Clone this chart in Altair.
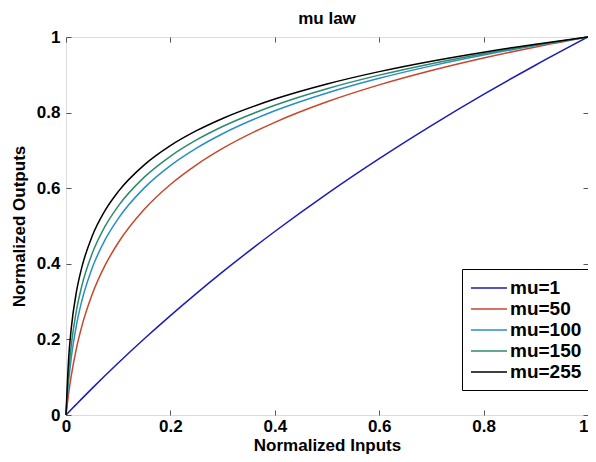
import altair as alt
import pandas as pd

# Normalized input positions
x_vals = [0, 0.005, 0.01, 0.02, 0.03, 0.05, 0.075, 0.1, 0.15, 0.2, 0.25, 0.3,
          0.4, 0.5, 0.6, 0.7, 0.8, 0.9, 1.0]

# Normalized outputs per curve
mu1 = [0, 0.0072, 0.0144, 0.0286, 0.0427, 0.0704, 0.1043, 0.1375, 0.2016, 0.2630,
       0.3219, 0.3785, 0.4854, 0.5850, 0.6781, 0.7655, 0.8480, 0.9260, 1.0]
mu50 = [0, 0.0568, 0.1031, 0.1763, 0.2330, 0.3186, 0.3963, 0.4557, 0.5443, 0.6099,
        0.6620, 0.7052, 0.7743, 0.8287, 0.8734, 0.9114, 0.9445, 0.9738, 1.0]
mu100 = [0, 0.0879, 0.1502, 0.2380, 0.3004, 0.3882, 0.4637, 0.5196, 0.6008, 0.6597,
         0.7060, 0.7441, 0.8047, 0.8519, 0.8907, 0.9236, 0.9522, 0.9774, 1.0]
mu150 = [0, 0.1115, 0.1826, 0.2763, 0.3398, 0.4265, 0.4994, 0.5526, 0.6292, 0.6844,
         0.7276, 0.7631, 0.8193, 0.8632, 0.8991, 0.9295, 0.9559, 0.9791, 1.0]
mu255 = [0, 0.1482, 0.2285, 0.3261, 0.3891, 0.4727, 0.5414, 0.5910, 0.6618, 0.7126,
         0.7521, 0.7845, 0.8358, 0.8757, 0.9084, 0.9360, 0.9599, 0.9811, 1.0]

labels = ["mu=1", "mu=50", "mu=100", "mu=150", "mu=255"]
colors = ["#1c1cb8", "#c8472a", "#2a8fc6", "#2e8a6c", "#000000"]
tick_values = [0, 0.2, 0.4, 0.6, 0.8, 1]

series = [mu1, mu50, mu100, mu150, mu255]
rows = []
for lab, ys in zip(labels, series):
    for xv, yv in zip(x_vals, ys):
        rows.append({"x": xv, "y": yv, "series": lab})
df = pd.DataFrame(rows)

FONT = "Liberation Sans"
xscale = alt.Scale(domain=[0, 1], nice=False, zero=False)
yscale = alt.Scale(domain=[0, 1], nice=False, zero=False)

base = alt.Chart(df)

lines = base.mark_line(strokeWidth=1.5, interpolate="monotone").encode(
    x=alt.X("x:Q", scale=xscale, title="Normalized Inputs",
            axis=alt.Axis(orient="bottom", values=tick_values, format="~g",
                          domain=False, ticks=False, grid=False, labelFlush=False,
                          labelAlign=alt.expr("datum.value == 1 ? 'right' : 'center'"),
                          labelFont=FONT, labelFontSize=17, labelFontWeight="bold",
                          labelColor="#000", labelPadding=3,
                          titleFont=FONT, titleFontSize=17, titleFontWeight="bold",
                          titleColor="#000", titlePadding=3)),
    y=alt.Y("y:Q", scale=yscale, title="Normalized Outputs",
            axis=alt.Axis(orient="left", values=tick_values, format="~g",
                          domain=False, ticks=False, grid=False, labelFlush=False,
                          labelFont=FONT, labelFontSize=17, labelFontWeight="bold",
                          labelColor="#000", labelPadding=6,
                          titleFont=FONT, titleFontSize=17, titleFontWeight="bold",
                          titleColor="#000", titlePadding=8)),
    color=alt.Color("series:N", sort=labels,
                    scale=alt.Scale(domain=labels, range=colors),
                    legend=alt.Legend(orient="none", legendX=396, legendY=232,
                                      title=None, symbolType="M-1,0H2.6",
                                      symbolSize=400, symbolStrokeWidth=1.5,
                                      labelOffset=18, labelFont=FONT,
                                      labelFontSize=19, labelFontWeight="bold",
                                      labelColor="#000", rowPadding=0,
                                      padding=8, fillColor="white",
                                      strokeColor="#000", cornerRadius=0)),
)


def tick_axis(orient):
    return alt.Axis(orient=orient, values=tick_values, offset=-5, tickSize=5,
                    tickColor="#555", domain=False, labels=False, grid=False,
                    title=None)


inner1 = base.mark_line(opacity=0).encode(
    x=alt.X("x:Q", scale=xscale, axis=tick_axis("bottom")),
    y=alt.Y("y:Q", scale=yscale, axis=tick_axis("left")),
)
inner2 = base.mark_line(opacity=0).encode(
    x=alt.X("x:Q", scale=xscale, axis=tick_axis("top")),
    y=alt.Y("y:Q", scale=yscale, axis=tick_axis("right")),
)

chart = alt.layer(lines, inner1, inner2).resolve_axis(
    x="independent", y="independent"
).properties(
    width=522, height=378,
    autosize=alt.AutoSizeParams(type="none"),
    padding={"left": 58, "top": 29, "right": 0, "bottom": 39},
    title=alt.Title("mu law", font=FONT, fontSize=17, fontWeight="bold",
                    color="#000", offset=0, anchor="middle"),
).configure_view(stroke="#404040", strokeWidth=1).configure(background="white")

chart.save("out.html", embed_options={"renderer": "svg", "actions": False})
